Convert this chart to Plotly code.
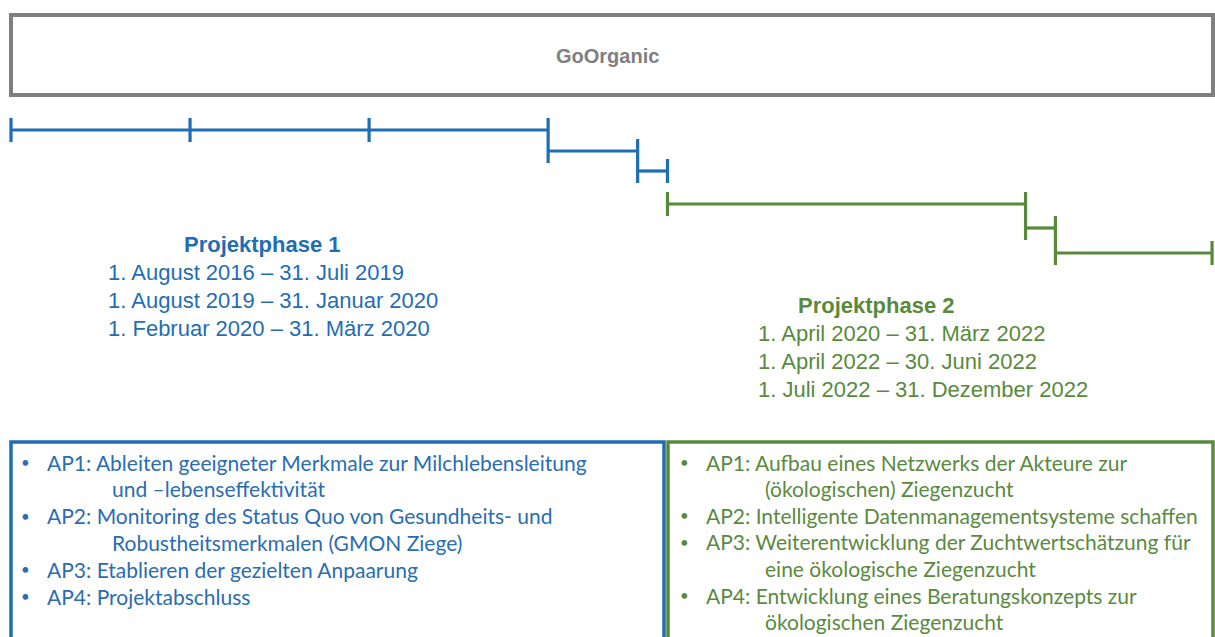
import plotly.graph_objects as go

# ---------------- data ----------------
title_text = "GoOrganic"

# timeline segments, in months after 1 Aug 2016 (as drawn)
p1_starts = [0, 36, 42]
p1_ends = [36, 42, 44]
p1_inner_ticks = [12, 24]
p2_starts = [44, 68, 70]
p2_ends = [68, 70, 80.5]

p1_heading = "Projektphase 1"
p1_periods = ["1. August 2016 – 31. Juli 2019",
              "1. August 2019 – 31. Januar 2020",
              "1. Februar 2020 – 31. März 2020"]
p2_heading = "Projektphase 2"
p2_periods = ["1. April 2020 – 31. März 2022",
              "1. April 2022 – 30. Juni 2022",
              "1. Juli 2022 – 31. Dezember 2022"]

p1_work = [("AP1: Ableiten geeigneter Merkmale zur Milchlebensleitung", "und –lebenseffektivität"),
           ("AP2: Monitoring des Status Quo von Gesundheits- und", "Robustheitsmerkmalen (GMON Ziege)"),
           ("AP3: Etablieren der gezielten Anpaarung", None),
           ("AP4: Projektabschluss", None)]
p2_work = [("AP1: Aufbau eines Netzwerks der Akteure zur", "(ökologischen) Ziegenzucht"),
           ("AP2: Intelligente Datenmanagementsysteme schaffen", None),
           ("AP3: Weiterentwicklung der Zuchtwertschätzung für", "eine ökologische Ziegenzucht"),
           ("AP4: Entwicklung eines Beratungskonzepts zur", "ökologischen Ziegenzucht")]

# ---------------- styling / layout ----------------
W, H = 1215, 637
BLUE = "#1f6db5"
GREEN = "#588a3b"
GRAY = "#7f7f7f"
LW = 3.2
p1_levels = [130, 151, 171]
p2_levels = [204, 228, 253]
TICK = 12


def PX(x):
    return x / W


fig = go.Figure()


def seg(x0, x1, y0, y1, color):
    fig.add_trace(go.Scatter(x=[x0, x1], y=[y0, y1], mode="lines",
                             line=dict(color=color, width=LW),
                             hoverinfo="skip", showlegend=False))


def draw_phase(starts, ends, levels, inner, color):
    for s, e, lv in zip(starts, ends, levels):
        seg(s, e, lv, lv, color)
    bounds = [starts[0]] + list(ends)
    for i, b in enumerate(bounds):
        ys = []
        if i > 0:
            ys.append(levels[i - 1])
        if i < len(levels):
            ys.append(levels[i])
        seg(b, b, min(ys) - TICK, max(ys) + TICK, color)
    for t in inner:
        seg(t, t, levels[0] - TICK, levels[0] + TICK, color)


draw_phase(p1_starts, p1_ends, p1_levels, p1_inner_ticks, BLUE)
draw_phase(p2_starts, p2_ends, p2_levels, [], GREEN)

# month -> pixel mapping: month 0 at px 11, 14.92 px per month
m0, ppm = 11, 14.92
fig.update_xaxes(range=[-m0 / ppm, (W - m0) / ppm], visible=False, fixedrange=True)
fig.update_yaxes(range=[H, 0], visible=False, fixedrange=True)

shapes = [
    dict(type="rect", xref="paper", yref="y", x0=PX(11), x1=PX(1213), y0=15, y1=95,
         line=dict(color=GRAY, width=4), fillcolor="white", layer="below"),
    dict(type="rect", xref="paper", yref="y", x0=PX(11), x1=PX(664), y0=442, y1=660,
         line=dict(color=BLUE, width=3.5), layer="below"),
    dict(type="rect", xref="paper", yref="y", x0=PX(668), x1=PX(1213), y0=442, y1=660,
         line=dict(color=GREEN, width=3.5), layer="below"),
]

ann = []
HF = "Liberation Sans, Arial, sans-serif"
ann.append(dict(text="<b>%s</b>" % title_text, x=PX(607), y=56, xref="paper", yref="y",
                xanchor="center", showarrow=False, font=dict(family=HF, size=20, color=GRAY)))

ann.append(dict(text="<b>%s</b>" % p1_heading, x=PX(262), y=244, xref="paper", yref="y",
                xanchor="center", showarrow=False, font=dict(family=HF, size=22, color=BLUE)))
for i, t in enumerate(p1_periods):
    ann.append(dict(text=t, x=PX(106), y=272 + 28 * i, xref="paper", yref="y", xanchor="left",
                    showarrow=False, font=dict(family=HF, size=22, color=BLUE)))
ann.append(dict(text="<b>%s</b>" % p2_heading, x=PX(876), y=305, xref="paper", yref="y",
                xanchor="center", showarrow=False, font=dict(family=HF, size=22, color=GREEN)))
for i, t in enumerate(p2_periods):
    ann.append(dict(text=t, x=PX(756), y=333 + 28 * i, xref="paper", yref="y", xanchor="left",
                    showarrow=False, font=dict(family=HF, size=22, color=GREEN)))

BF = "Lato, Carlito, Calibri, sans-serif"


def work_list(items, xb, xt, xc, y0, step, color):
    y = y0
    for first, cont in items:
        ann.append(dict(text="•", x=PX(xb), y=y, xref="paper", yref="y", xanchor="left",
                        showarrow=False, font=dict(family=BF, size=15, color=color)))
        ann.append(dict(text=first, x=PX(xt), y=y, xref="paper", yref="y", xanchor="left",
                        showarrow=False, font=dict(family=BF, size=21, color=color)))
        y += step
        if cont:
            ann.append(dict(text=cont, x=PX(xc), y=y, xref="paper", yref="y", xanchor="left",
                            showarrow=False, font=dict(family=BF, size=21, color=color)))
            y += step


work_list(p1_work, 19, 45, 110, 462, 26.8, "#2a6db0")
work_list(p2_work, 678, 704, 763, 462, 26.6, "#5a8a3e")

fig.update_layout(width=W, height=H, margin=dict(l=0, r=0, t=0, b=0),
                  paper_bgcolor="white", plot_bgcolor="white",
                  shapes=shapes, annotations=ann, showlegend=False)

fig.write_html("out.html", config={"displayModeBar": False, "staticPlot": True},
               post_script="document.body.style.margin='0';document.body.style.overflow='hidden';")
